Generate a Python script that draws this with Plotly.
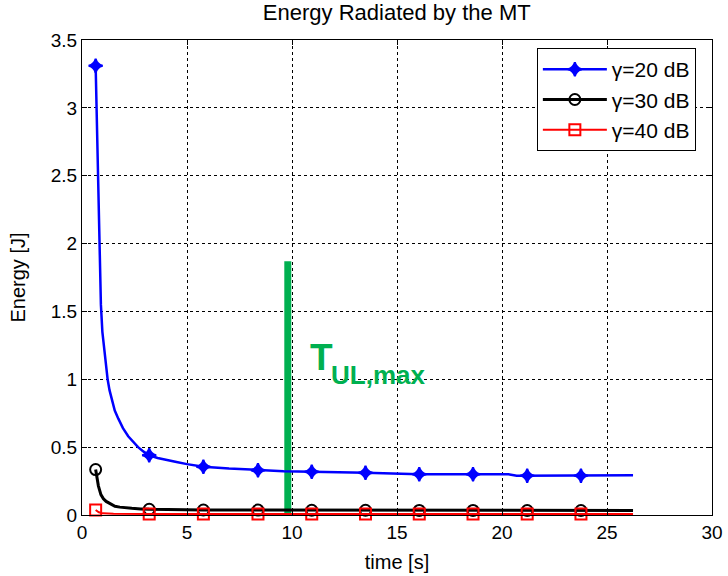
import plotly.graph_objects as go

# ---- data -------------------------------------------------------------
# gamma = 20 dB : radiated energy vs. time
T20 = [0.65, 0.70, 0.74, 0.78, 0.82, 0.86, 0.90, 0.97, 1.05, 1.13, 1.22, 1.31,
       1.41, 1.56, 1.73, 1.95, 2.2, 2.45, 2.67, 2.95, 3.2, 3.6, 4.0, 4.5, 5.0,
       5.78, 7.0, 8.38, 9.6, 10.94, 13.5, 16.06, 18.62, 20.3, 20.7, 21.2, 23.76,
       26.24]
E20 = [3.31, 2.95, 2.6, 2.35, 1.96, 1.75, 1.55, 1.35, 1.22, 1.1, 1.0, 0.92,
       0.85, 0.77, 0.71, 0.64, 0.58, 0.535, 0.5, 0.465, 0.44, 0.42, 0.405, 0.39,
       0.375, 0.356, 0.342, 0.33, 0.323, 0.318, 0.312, 0.30, 0.30, 0.30, 0.29,
       0.29, 0.29, 0.292]

# gamma = 30 dB
T30 = [0.65, 0.70, 0.78, 0.90, 1.02, 1.15, 1.3, 1.45, 1.57, 1.8, 2.0, 2.37,
       2.8, 3.2, 5.78, 8.38, 10.94, 13.5, 16.06, 18.62, 21.2, 23.76, 26.24]
E30 = [0.335, 0.28, 0.215, 0.15, 0.12, 0.1, 0.085, 0.072, 0.064, 0.058, 0.054,
       0.049, 0.045, 0.042, 0.037, 0.036, 0.035, 0.035, 0.034, 0.034, 0.033,
       0.033, 0.033]

# gamma = 40 dB
T40 = [0.65, 0.8, 1.0, 1.5, 3.2, 5.78, 8.38, 10.94, 13.5, 16.06, 18.62, 21.2,
       23.76, 26.24]
E40 = [0.037, 0.02, 0.012, 0.009, 0.008, 0.008, 0.008, 0.008, 0.007, 0.007,
       0.007, 0.007, 0.007, 0.007]

# times at which the curve markers are drawn
MARK_T = [0.65, 3.2, 5.78, 8.38, 10.94, 13.5, 16.06, 18.62, 21.2, 23.76]

# maximum uplink time
TUL_MAX = 9.8
TUL_BAR_TOP = 1.87

X_TICKS = [0, 5, 10, 15, 20, 25, 30]
Y_TICKS = [0, 0.5, 1, 1.5, 2, 2.5, 3, 3.5]

SERIES = [
    ("γ=20 dB", T20, E20, "#0000FF", "star-diamond", 10, 2.5),
    ("γ=30 dB", T30, E30, "#000000", "circle-open", 11, 3),
    ("γ=40 dB", T40, E40, "#FF0000", "square-open", 11, 2),
]

FONT = "Liberation Sans, Arial, sans-serif"
GREEN = "#00B050"

fig = go.Figure()

# vertical bar marking the maximum uplink time
fig.add_trace(go.Scatter(x=[TUL_MAX, TUL_MAX], y=[0, TUL_BAR_TOP], mode="lines",
                         line=dict(color=GREEN, width=7), showlegend=False,
                         hoverinfo="skip"))

for name, t, e, color, sym, msize, lw in SERIES:
    mx = [tt for tt in t if tt in MARK_T]
    my = [ee for tt, ee in zip(t, e) if tt in MARK_T]
    mline = dict(color=color, width=2)
    fig.add_trace(go.Scatter(x=t, y=e, mode="lines", line=dict(color=color, width=lw),
                             showlegend=False, legendgroup=name, cliponaxis=False))
    fig.add_trace(go.Scatter(x=mx, y=my, mode="markers", cliponaxis=False,
                             marker=dict(symbol=sym, size=msize, color=color, line=mline),
                             showlegend=False, legendgroup=name))
    # legend entry: line with marker
    fig.add_trace(go.Scatter(x=[None], y=[None], mode="lines+markers", name=name,
                             line=dict(color=color, width=lw),
                             marker=dict(symbol=sym, size=msize, color=color, line=mline),
                             legendgroup=name))

fig.add_annotation(x=10.75, y=1.16, xref="x", yref="y", text="<b>T</b>",
                   showarrow=False, xanchor="left", yanchor="middle",
                   font=dict(family=FONT, size=37, color=GREEN))
fig.add_annotation(x=11.75, y=1.03, xref="x", yref="y", text="<b>UL,max</b>",
                   showarrow=False, xanchor="left", yanchor="middle",
                   font=dict(family=FONT, size=26, color=GREEN))

axis_common = dict(
    showline=True, linecolor="black", linewidth=1, mirror="ticks",
    ticks="inside", ticklen=5, tickcolor="black",
    showgrid=True, gridcolor="black", gridwidth=1, griddash="dot",
    zeroline=False, automargin=False,
    tickfont=dict(family=FONT, size=19, color="black"),
)

fig.update_layout(
    width=728, height=576,
    margin=dict(l=82, r=16, t=40, b=61),
    paper_bgcolor="white", plot_bgcolor="white",
    font=dict(family=FONT, size=19, color="black"),
    title=dict(text="Energy Radiated by the MT", x=0.545, xanchor="center",
               y=0.979, yanchor="middle", font=dict(family=FONT, size=22)),
    xaxis=dict(range=[0, 30], tickvals=X_TICKS, ticktext=[str(v) for v in X_TICKS],
               title=dict(text="time [s]", standoff=13, font=dict(size=20)),
               **axis_common),
    yaxis=dict(range=[0, 3.5], tickvals=Y_TICKS, ticktext=[f"{v:g}" for v in Y_TICKS],
               title=dict(text="Energy [J]", standoff=19, font=dict(size=20)),
               **axis_common),
    legend=dict(x=0.722, y=0.983, xanchor="left", yanchor="top",
                bgcolor="white", bordercolor="black", borderwidth=1,
                font=dict(family=FONT, size=21), itemwidth=64,
                tracegroupgap=0),
    showlegend=True,
)

fig.write_html("out.html")
